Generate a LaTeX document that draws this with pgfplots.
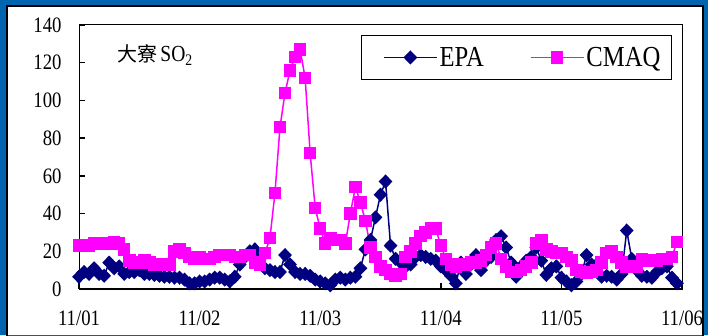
\documentclass[border=0pt]{standalone}
\usepackage{pgfplots}
\pgfplotsset{compat=1.18}
\usepackage{pgfplotstable}
\usepackage{fontspec}
\setmainfont{Liberation Serif}
\newfontfamily\pmfont[FakeStretch=0.85]{Liberation Serif}
\newfontfamily\cjk{Noto Sans CJK TC}
\definecolor{frameblue}{RGB}{0,100,175}
\definecolor{epacol}{RGB}{0,0,128}
\definecolor{cmaqcol}{RGB}{255,0,255}
\pgfplotstableread{
h EPA CMAQ
0 6.5 23
1 9 23
2 8 23
3 11 24
4 8 24
5 7 24
6 14 24
7 11 25
8 12 24
9 8 21
10 9 15
11 9 14
12 10 14
13 8 15
14 8 14
15 7.5 13
16 7 13
17 6.5 13
18 6.5 13
19 6 20
20 6 21
21 5 19
22 3 17
23 3 16
24 4 17
25 4 16
26 5 16
27 6 17
28 6 18
29 5 18
30 4 18
31 6.5 17
32 13 17
33 17 18
34 20 18
35 21 14
36 16 13
37 11 19
38 10 27
39 9 51
40 9 86
41 18 104
42 13 116
43 9 123
44 8 127
45 8 112
46 7 72
47 5 43
48 4 32
49 3 24
50 2 27
51 5 26
52 6 26
53 5 24
54 6 40
55 6.5 54
56 11 46
57 21 36
58 26 22
59 38 17
60 50 12
61 57 10
62 23 8
63 16 7
64 14 8
65 12 17
66 13 20
67 17 24
68 18 28
69 17 30
70 16 32
71 15 32
72 12 23
73 10 16
74 7 13
75 3 12
76 14 13
77 8 13
78 13 14
79 18 14
80 10 15
81 15 18
82 17 22
83 26 24
84 28 16
85 22 12
86 14 9
87 6.5 9
88 12 10
89 15 12
90 17 14
91 22 24
92 15 26
93 7.5 21
94 11 20
95 12 19
96 6 19
97 4 17
98 2 15
99 4 10
100 8 9
101 18 8.5
102 13 9
103 13 10
104 6.5 14
105 7 19
106 6.5 20
107 5 17
108 8 14
109 31 12
110 16 12
111 10 12
112 7 16
113 6.5 15
114 6 15
115 9 15
116 11 16
117 12 16
118 6 17
119 3 25
}\datatable
\begin{document}
\begin{tikzpicture}
\useasboundingbox (0pt,0pt) rectangle (708pt,335pt);
\fill[white] (0pt,0pt) rectangle (708pt,335pt);
\begin{axis}[
  at={(79pt,46pt)}, anchor=south west,
  scale only axis, width=603pt, height=264pt,
  xmin=0, xmax=120, ymin=0, ymax=140,
  xtick={0,24,48,72,96,120},
  xticklabels={11/01,11/02,11/03,11/04,11/05,11/06},
  ytick={0,20,...,140},
  tick align=inside, xtick pos=bottom, ytick pos=left,
  major tick length=6pt,
  tick style={line width=1.5pt, black},
  axis line style={line width=1pt},
  /pgf/number format/assume math mode=true,
  ticklabel style={font=\pmfont\fontsize{22}{24}\selectfont},
  yticklabel style={xshift=-14pt},
  xticklabel style={yshift=-18pt},
  legend columns=2,
  legend style={at={(rel axis cs:1,1)}, anchor=north east, xshift=-10pt, yshift=-10pt,
    draw=black, line width=1.2pt, inner xsep=9pt, inner ysep=9.5pt,
    font=\pmfont\fontsize{29}{32}\selectfont,
    /tikz/every even column/.append style={column sep=31pt}},
  legend image code/.code={
    \path (0pt,0pt);
    \draw[mark repeat=2,mark phase=2,#1] plot coordinates {(13pt,0pt) (39.5pt,0pt) (66pt,0pt)};
  },
]
\addplot[color=epacol, line width=1.5pt, mark=diamond*, mark size=6pt,
  mark options={xscale=1.3, solid, fill=epacol}] table[x=h, y=EPA] {\datatable};
\addlegendentry{EPA}
\addplot[color=cmaqcol, line width=1.5pt, mark=square*, mark size=5.5pt,
  mark options={solid, fill=cmaqcol}] table[x=h, y=CMAQ] {\datatable};
\addlegendentry{CMAQ}
\draw[line width=2pt] (rel axis cs:0,1) -- (rel axis cs:0,0) -- (rel axis cs:1,0);
\node[anchor=west, inner sep=0pt] at (axis cs:7.6,124)
  {{\cjk\fontsize{20}{22}\selectfont 大寮}\hspace{3pt}{\pmfont\fontsize{23}{24}\selectfont SO\textsubscript{2}}};
\end{axis}
\fill[frameblue, even odd rule] (0pt,0pt) rectangle (708pt,335pt) (7pt,-10pt) rectangle (703pt,329pt);
\draw[black, line width=2pt] (7pt,-10pt) -- (7pt,329pt) -- (703pt,329pt) -- (703pt,-10pt);
\end{tikzpicture}
\end{document}
